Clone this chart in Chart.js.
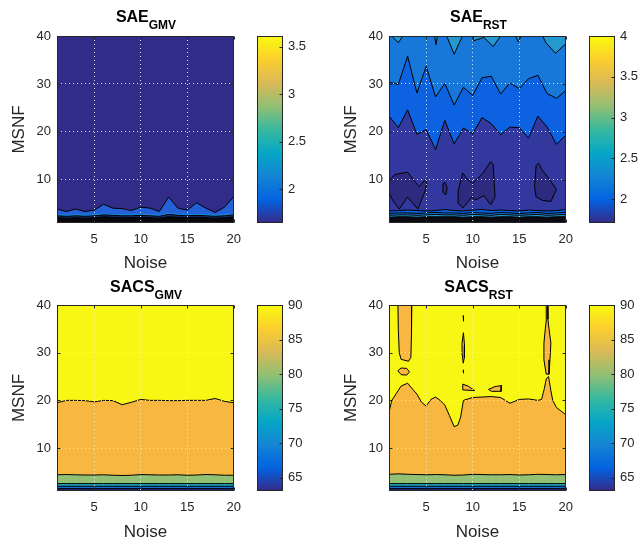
<!DOCTYPE html>
<html><head><meta charset="utf-8">
<script src="https://cdn.jsdelivr.net/npm/chart.js@4.4.1/dist/chart.umd.min.js"></script>
<style>
html,body{margin:0;padding:0;background:#fff;}
body{width:641px;height:543px;overflow:hidden;position:relative;font-family:'Liberation Sans',Arial,Helvetica,sans-serif;}
canvas{position:absolute;}
.title{position:absolute;text-align:center;font-weight:bold;font-size:16px;line-height:16px;color:#000;white-space:nowrap;}
.title span{font-size:12px;position:relative;top:7px;}
</style></head><body>
<canvas id="c1" width="250" height="274" style="left:0px;top:0px"></canvas>
<canvas id="b1" width="70" height="274" style="left:250px;top:0px"></canvas>
<canvas id="c2" width="250" height="274" style="left:332px;top:0px"></canvas>
<canvas id="b2" width="70" height="274" style="left:582px;top:0px"></canvas>
<canvas id="c3" width="250" height="274" style="left:0px;top:269px"></canvas>
<canvas id="b3" width="70" height="274" style="left:250px;top:269px"></canvas>
<canvas id="c4" width="250" height="274" style="left:332px;top:269px"></canvas>
<canvas id="b4" width="70" height="274" style="left:582px;top:269px"></canvas>
<div class="title" style="left:57px;width:178px;top:9px">SAE<span>GMV</span></div>
<div class="title" style="left:389px;width:179px;top:9px">SAE<span>RST</span></div>
<div class="title" style="left:57px;width:178px;top:279px">SACS<span>GMV</span></div>
<div class="title" style="left:389px;width:179px;top:279px">SACS<span>RST</span></div>
<script>
// ---------- data ----------
const noise = [1,2,3,4,5,6,7,8,9,10,11,12,13,14,15,16,17,18,19,20];
const noiseTicks = [5,10,15,20];
const msnfTicks = [10,20,30,40];
const msnfTop = [40,40,40,40,40,40,40,40,40,40,40,40,40,40,40,40,40,40,40,40];

// SAE_GMV contour boundaries (MSNF value of each level edge per noise)
const saeGmvRange = [1.644, 3.613];
const saeGmvCbTicks = [2, 2.5, 3, 3.5];
const saeGmvEdge1 = [3.9,3.4,3.9,3.4,3.7,4.9,4.1,4.0,3.6,4.3,4.1,3.4,6.4,4.1,3.7,5.2,4.1,3.2,4.3,6.5];
const saeGmvEdge2 = [2.8,2.7,2.8,2.7,2.8,3.0,2.9,2.8,2.8,2.9,2.8,2.7,3.1,2.9,2.8,2.9,2.8,2.7,2.8,3.0];
const saeGmvEdge3 = [2.5,2.4,2.5,2.4,2.5,2.7,2.6,2.5,2.5,2.6,2.5,2.4,2.8,2.6,2.5,2.6,2.5,2.4,2.5,2.7];
const saeGmvEdge4 = [2.1,2.0,2.1,2.0,2.1,2.3,2.2,2.1,2.1,2.2,2.1,2.0,2.3,2.2,2.1,2.2,2.1,2.0,2.1,2.3];

// SAE_RST
const saeRstRange = [1.706, 4];
const saeRstCbTicks = [2, 2.5, 3, 3.5, 4];
const saeRstTopX = [1,1.3,2,2.5,5.9,6.05,6.2,7.2,8,8.9,9.95,10.1,11.2,12.2,13,14.6,14.9,15.2,17.5,17.9,18.9,20];
const saeRstTopY = [40,40,38.6,40,40,38.2,40,40,36.2,40,40,39.0,39.7,37.8,40,40,38.8,40,40,38.5,36.4,38.4];
const saeRstEdge30 = [30.4,29.9,35.8,28.1,33.7,27.3,30.1,25.6,29.3,27.6,31.3,31.6,27.9,30.2,29.0,31.1,31.8,28.0,27.0,28.6];
const saeRstEdge20 = [23.3,20.9,24.6,19.5,20.5,16.3,22.4,17.5,20.8,19.6,23.0,21.7,19.4,21.0,20.9,18.7,23.3,21.0,17.4,19.3];
const saeRstLow1 = [3.5,3.6,3.7,3.6,3.5,3.6,3.8,3.6,3.5,3.7,3.8,3.6,3.7,3.6,3.5,3.7,3.6,3.5,3.6,3.8];
const saeRstLow2 = [3.0,3.1,3.1,3.0,3.1,3.2,3.1,3.1,3.0,3.2,3.1,3.0,3.2,3.1,3.0,3.1,3.2,3.0,3.1,3.2];
const saeRstLow3 = [2.6,2.7,2.7,2.6,2.7,2.8,2.7,2.7,2.6,2.8,2.7,2.6,2.8,2.7,2.6,2.7,2.8,2.6,2.7,2.8];
const saeRstLow4 = [2.2,2.3,2.3,2.2,2.3,2.3,2.3,2.3,2.2,2.3,2.3,2.2,2.3,2.3,2.2,2.3,2.3,2.2,2.3,2.3];
const saeRstPocket1 = [[1,9.85],[1.6,11.1],[3.0,11.6],[3.7,9.85],[4.25,8.6],[4.96,10.2],[5.07,9.2],[4.9,7.8],[4.1,3.9],[3.0,6.4],[2.1,3.9],[1.4,5.7],[1,7.4]];
const saeRstPocket2 = [[6.8,9.2],[7.0,9.5],[7.26,8.3],[7.1,6.9],[6.8,7.4]];
const saeRstPocket3 = [[8.43,7.76],[8.93,11.4],[9.39,10.2],[9.99,9.3],[11.05,11.25],[11.93,13.8],[12.2,13.2],[12.4,6.4],[11.93,4.83],[11.2,6.7],[10.27,5.8],[9.9,6.4],[8.93,4.1],[8.5,5.0]];
const saeRstPocket4 = [[16.64,8.6],[16.82,13.0],[17.07,13.5],[17.5,11.95],[18.2,10.2],[19.0,8.0],[18.4,5.5],[17.5,5.7],[16.8,6.5]];

// SACS_GMV
const sacsRange = [63.1, 90];
const sacsCbTicks = [65, 70, 75, 80, 85, 90];
const sacsGmvEdge1 = [19.5,20.0,20.0,19.95,19.7,20.0,19.95,19.1,19.6,20.2,20.0,20.0,19.95,19.95,20.0,20.0,20.0,20.4,19.8,19.5];
const sacsGmvEdge2 = [4.4,4.45,4.4,4.35,4.35,4.4,4.3,4.25,4.3,4.45,4.4,4.35,4.35,4.4,4.3,4.35,4.45,4.4,4.3,4.3];
const sacsGmvEdge3 = [2.55,2.55,2.55,2.55,2.55,2.55,2.55,2.55,2.55,2.55,2.55,2.55,2.55,2.55,2.55,2.55,2.55,2.55,2.55,2.55];
const sacsGmvEdge4 = [2.0,2.0,2.0,2.0,2.0,2.0,2.0,2.0,2.0,2.0,2.0,2.0,2.0,2.0,2.0,2.0,2.0,2.0,2.0,2.0];
const sacsGmvEdge5 = [1.5,1.5,1.5,1.5,1.5,1.5,1.5,1.5,1.5,1.5,1.5,1.5,1.5,1.5,1.5,1.5,1.5,1.5,1.5,1.5];

// SACS_RST
const sacsRstEdge1X = [1,1.3,1.8,2.3,3,3.6,4,4.5,5,5.5,6,6.5,7,7.5,8,8.4,8.7,9,10,11,12,13,14,15,16,17,17.4,17.7,17.9,18.15,18.4,18.6,19,20];
const sacsRstEdge1Y = [17.5,20.0,21.5,23.0,23.6,22.2,21.3,19.6,18.8,20.2,20.7,20.0,19.0,16.8,14.5,14.8,16.5,20.0,20.6,20.7,20.8,20.6,19.4,20.2,20.3,20.0,20.2,22.5,24.5,25.0,22.0,20.0,18.5,17.0];
const sacsRstEdge2 = [4.5,4.6,4.5,4.45,4.4,4.45,4.4,4.3,4.35,4.5,4.45,4.4,4.4,4.45,4.35,4.4,4.5,4.45,4.4,4.45];
const sacsRstEdge3 = [2.55,2.55,2.55,2.55,2.55,2.55,2.55,2.55,2.55,2.55,2.55,2.55,2.55,2.55,2.55,2.55,2.55,2.55,2.55,2.55];
const sacsRstEdge4 = [2.0,2.0,2.0,2.0,2.0,2.0,2.0,2.0,2.0,2.0,2.0,2.0,2.0,2.0,2.0,2.0,2.0,2.0,2.0,2.0];
const sacsRstEdge5 = [1.5,1.5,1.5,1.5,1.5,1.5,1.5,1.5,1.5,1.5,1.5,1.5,1.5,1.5,1.5,1.5,1.5,1.5,1.5,1.5];
const sacsRstPocketA = [[1.96,40],[3.45,40],[3.42,34],[3.35,29],[3.1,28.2],[2.3,28.6],[2.1,30],[2.0,35]];
const sacsRstPocketB = [[1.95,26.2],[2.3,26.8],[2.9,26.7],[3.2,26.0],[2.9,25.3],[2.3,25.4]];
const sacsRstPocketC = [[9.0,34.2],[9.12,31.5],[9.1,29],[8.98,27.8],[8.88,29.5],[8.85,32]];
const sacsRstPocketC2 = [[8.97,37.8],[9.05,37.8],[9.05,36.6],[8.97,36.6]];
const sacsRstPocketC3 = [[8.97,26.4],[9.05,26.4],[9.05,25.7],[8.97,25.7]];
const sacsRstPocketD = [[8.93,23.4],[9.5,23.0],[10.2,22.05],[8.93,22.2]];
const sacsRstPocketE = [[11.7,22.3],[12.4,22.9],[13.1,23.1],[13.05,21.9],[12.0,21.9]];
const sacsRstPocketF = [[17.9,40],[18.05,40],[18.08,37],[18.2,35],[18.4,32],[18.3,28.5],[18.2,25.5],[17.9,25.5],[17.65,28.5],[17.65,32],[17.8,35],[17.92,37]];

// ---------- styles ----------
const FONT = "'Liberation Sans', Arial, Helvetica, sans-serif";
const TXT = '#262626';
const GRID = 'rgba(238,238,238,0.9)';
const PARULA = ['#352a87','#0363e1','#1485d4','#06a7c6','#38b99e','#92bf73','#d9ba56','#fcce2e','#f9fb0e'];

function band(xs, ys, color, order, line) {
  return {data: xs.map((x,i)=>({x:x, y:ys[i]})), showLine:true, pointRadius:0, pointHitRadius:0,
    borderColor: line ? '#000' : 'rgba(0,0,0,0)', borderWidth: line ? 1 : 0,
    backgroundColor: color, fill:'start', order: order, tension:0};
}
function pocket(pts, color, order) {
  const all = pts.concat([pts[0]]);
  return {data: all.map(p=>({x:p[0], y:p[1]})), showLine:true, pointRadius:0, pointHitRadius:0,
    borderColor:'#000', borderWidth:1, backgroundColor:color, fill:'shape', order: order, tension:0};
}

const boxPlugin = {
  id:'box',
  afterDraw(chart, args, opts) {
    const ctx = chart.ctx, a = chart.chartArea;
    const l = Math.round(a.left)+0.5, t = Math.round(a.top)+0.5, r = Math.round(a.right)-0.5, b = Math.round(a.bottom)-0.5;
    ctx.save();
    ctx.strokeStyle = TXT; ctx.lineWidth = 1;
    ctx.strokeRect(l, t, r-l, b-t);
    const len = 3;
    ctx.beginPath();
    if (opts.sides === 'all') {
      const sx = chart.scales.x;
      sx.ticks.forEach(tk => { const p = Math.round(sx.getPixelForValue(tk.value))+0.5;
        ctx.moveTo(p,b); ctx.lineTo(p,b-len); ctx.moveTo(p,t); ctx.lineTo(p,t+len); });
    }
    const sy = chart.scales.y;
    sy.ticks.forEach(tk => { const p = Math.round(sy.getPixelForValue(tk.value))+0.5;
      if (opts.sides === 'all') { ctx.moveTo(l,p); ctx.lineTo(l+len,p); }
      ctx.moveTo(r,p); ctx.lineTo(r-len,p); });
    ctx.stroke();
    ctx.restore();
  }
};

function parulaGradient(chart) {
  const a = chart.chartArea;
  if (!a) return PARULA[2];
  const g = chart.ctx.createLinearGradient(0, a.bottom, 0, a.top);
  PARULA.forEach((c,i)=>g.addColorStop(i/(PARULA.length-1), c));
  return g;
}

function makeContour(id, datasets, padTop, xHeight, titlePad) {
  new Chart(document.getElementById(id), {
    type:'scatter',
    data:{datasets: datasets},
    options:{
      animation:false, responsive:false, events:[],
      layout:{padding:{top:padTop, right:15, left:0, bottom:0}},
      plugins:{legend:{display:false}, tooltip:{enabled:false}, filler:{drawTime:'beforeDatasetsDraw'}, box:{sides:'all'}},
      scales:{
        x:{type:'linear', min:1, max:20,
          afterBuildTicks: s => { s.ticks = noiseTicks.map(v=>({value:v})); },
          afterFit: s => { s.height = xHeight; },
          grid:{color:GRID, lineWidth:1, z:1, drawTicks:false},
          border:{display:false, dash:[1,3]},
          ticks:{font:{family:FONT, size:13}, color:TXT, padding:9, maxRotation:0, autoSkip:false, callback: v => String(v)},
          title:{display:true, text:'Noise', font:{family:FONT, size:17}, color:TXT, padding:{top:0, bottom:titlePad}}},
        y:{type:'linear', min:1, max:40,
          afterBuildTicks: s => { s.ticks = msnfTicks.map(v=>({value:v})); },
          afterFit: s => { s.width = 57; },
          grid:{color:GRID, lineWidth:1, z:1, drawTicks:false},
          border:{display:false, dash:[1,3]},
          ticks:{font:{family:FONT, size:13}, color:TXT, padding:6, autoSkip:false, callback: v => String(v)},
          title:{display:true, text:'MSNF', font:{family:FONT, size:17}, color:TXT, padding:{top:9, bottom:0}}}
      }
    },
    plugins:[boxPlugin]
  });
}

function makeColorbar(id, range, ticks, padTop, padBottom) {
  new Chart(document.getElementById(id), {
    type:'bar',
    data:{labels:['cb'], datasets:[{data:[[range[0], range[1]]], backgroundColor: c => parulaGradient(c.chart),
      borderWidth:0, barPercentage:1, categoryPercentage:1}]},
    options:{
      animation:false, responsive:false, events:[],
      layout:{padding:{top:padTop, bottom:padBottom, left:7, right:0}},
      plugins:{legend:{display:false}, tooltip:{enabled:false}, box:{sides:'right'}},
      scales:{
        x:{display:false},
        y:{position:'right', min:range[0], max:range[1],
          afterBuildTicks: s => { s.ticks = ticks.map(v=>({value:v})); },
          afterFit: s => { s.width = 37; },
          grid:{display:false, drawTicks:false, tickLength:0}, border:{display:false},
          ticks:{font:{family:FONT, size:13}, color:TXT, padding:5, autoSkip:false, callback: v => String(v)}}
      }
    },
    plugins:[boxPlugin]
  });
}

// SAE_GMV
makeContour('c1', [
  band(noise, msnfTop, 'rgb(49,44,136)', 20, false),
  band(noise, saeGmvEdge1, 'rgb(36,96,214)', 19, true),
  band(noise, saeGmvEdge2, 'rgb(22,142,222)', 18, false),
  band(noise, saeGmvEdge3, 'rgb(24,50,110)', 17, true),
  band(noise, saeGmvEdge4, 'rgb(8,8,12)', 16, true)
], 36, 51, 0);
makeColorbar('b1', saeGmvRange, saeGmvCbTicks, 36, 51);

// SAE_RST
makeContour('c2', [
  band(noise, msnfTop, 'rgb(38,152,208)', 20, false),
  band(saeRstTopX, saeRstTopY, 'rgb(24,120,218)', 19, true),
  band(noise, saeRstEdge30, 'rgb(12,98,224)', 18, true),
  band(noise, saeRstEdge20, 'rgb(50,56,158)', 17, true),
  band(noise, saeRstLow1, 'rgb(12,98,224)', 16, true),
  band(noise, saeRstLow2, 'rgb(24,120,218)', 15, true),
  band(noise, saeRstLow3, 'rgb(38,152,208)', 14, true),
  band(noise, saeRstLow4, 'rgb(10,10,16)', 13, true),
  pocket(saeRstPocket1, 'rgb(46,42,128)', 1),
  pocket(saeRstPocket2, 'rgb(46,42,128)', 1),
  pocket(saeRstPocket3, 'rgb(46,42,128)', 1),
  pocket(saeRstPocket4, 'rgb(46,42,128)', 1)
], 36, 51, 0);
makeColorbar('b2', saeRstRange, saeRstCbTicks, 36, 51);

// SACS_GMV
makeContour('c3', [
  band(noise, msnfTop, 'rgb(248,246,20)', 20, false),
  band(noise, sacsGmvEdge1, 'rgb(247,183,64)', 19, true),
  band(noise, sacsGmvEdge2, 'rgb(146,192,116)', 18, true),
  band(noise, sacsGmvEdge3, 'rgb(30,168,190)', 17, true),
  band(noise, sacsGmvEdge4, 'rgb(20,110,205)', 16, true),
  band(noise, sacsGmvEdge5, 'rgb(34,40,115)', 15, true)
], 36, 52, 0);
makeColorbar('b3', sacsRange, sacsCbTicks, 36, 52);

// SACS_RST
makeContour('c4', [
  band(noise, msnfTop, 'rgb(248,246,20)', 20, false),
  band(sacsRstEdge1X, sacsRstEdge1Y, 'rgb(247,183,64)', 19, true),
  band(noise, sacsRstEdge2, 'rgb(146,192,116)', 18, true),
  band(noise, sacsRstEdge3, 'rgb(30,168,190)', 17, true),
  band(noise, sacsRstEdge4, 'rgb(20,110,205)', 16, true),
  band(noise, sacsRstEdge5, 'rgb(34,40,115)', 15, true),
  pocket(sacsRstPocketA, 'rgb(247,183,64)', 1),
  pocket(sacsRstPocketB, 'rgb(247,183,64)', 1),
  pocket(sacsRstPocketC, 'rgb(247,183,64)', 1),
  pocket(sacsRstPocketC2, 'rgb(247,183,64)', 1),
  pocket(sacsRstPocketC3, 'rgb(247,183,64)', 1),
  pocket(sacsRstPocketD, 'rgb(247,183,64)', 1),
  pocket(sacsRstPocketE, 'rgb(247,183,64)', 1),
  pocket(sacsRstPocketF, 'rgb(247,183,64)', 1)
], 36, 52, 0);
makeColorbar('b4', sacsRange, sacsCbTicks, 36, 52);
</script>
</body></html>
